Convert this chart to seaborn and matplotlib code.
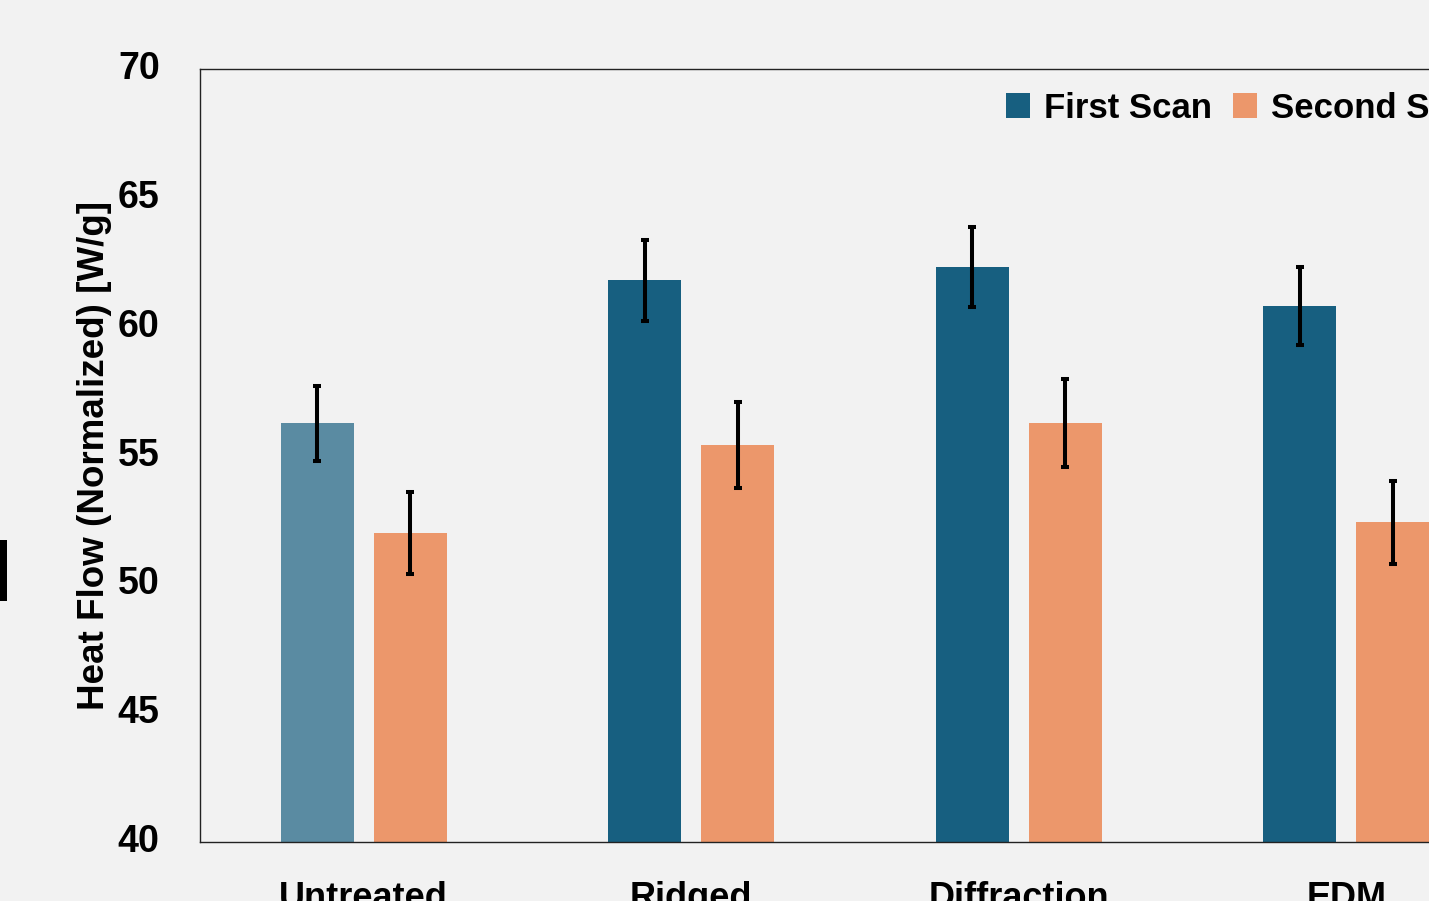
import numpy as np
import pandas as pd
import seaborn as sns
import matplotlib.pyplot as plt
from matplotlib.patches import Rectangle

# Data
categories = ["Untreated", "Ridged", "Diffraction", "EDM"]
scans = ["First Scan", "Second Scan"]
first_scan = [56.25, 61.8, 62.3, 60.8]
second_scan = [52.0, 55.4, 56.25, 52.4]
first_err = [1.45, 1.57, 1.55, 1.53]
second_err = [1.6, 1.67, 1.7, 1.6]
y_ticks = [40, 45, 50, 55, 60, 65, 70]

BLUE = "#175F80"
BLUE_LIGHT = "#5A8BA2"
ORANGE = "#EC976B"
BG = "#F2F2F2"

df = pd.DataFrame({
    "Treatment": categories * 2,
    "Scan": [scans[0]] * 4 + [scans[1]] * 4,
    "Heat": first_scan + second_scan,
})

sns.set_theme(style="white")
plt.rcParams["font.family"] = ["Liberation Sans", "DejaVu Sans"]
plt.rcParams["text.color"] = "black"
plt.rcParams["xtick.color"] = "black"
plt.rcParams["ytick.color"] = "black"
plt.rcParams["axes.labelcolor"] = "black"

fig = plt.figure(figsize=(14.29, 9.01), dpi=100, facecolor=BG)
W, H = 1429, 901
ax = fig.add_axes([200 / W, 1 - 842 / H, 1310 / W, (842 - 69) / H])
ax.set_facecolor(BG)

sns.barplot(data=df, x="Treatment", y="Heat", hue="Scan", order=categories,
            hue_order=scans, palette=[BLUE, ORANGE], saturation=1, errorbar=None,
            width=0.568, gap=0.21, linewidth=0, ax=ax, legend=False)

# first bar of the first group is shown lighter
ax.containers[0][0].set_facecolor(BLUE_LIGHT)

errs = [first_err, second_err]
for cont, err in zip(ax.containers, errs):
    xs = [b.get_x() + b.get_width() / 2 for b in cont]
    ys = [b.get_height() + b.get_y() for b in cont]
    ax.errorbar(xs, ys, yerr=err, fmt="none", ecolor="black",
                elinewidth=2.9, capsize=3, capthick=2.9, zorder=5)

ax.set_xlim(-0.5, 3.5)
ax.set_ylim(40, 70)
ax.set_yticks(y_ticks)
ax.set_yticklabels([str(t) for t in y_ticks], fontsize=27, fontweight="bold",
                   family=["Liberation Sans", "DejaVu Sans"], va="center")
ax.tick_params(axis="y", length=0, pad=29)
ax.tick_params(axis="x", length=0, pad=28)
ax.set_xticks(range(len(categories)))
ax.set_xticklabels(categories, fontsize=26, fontweight="bold",
                   family=["Liberation Sans Narrow", "Liberation Sans", "DejaVu Sans"])
ax.set_xlabel("")
ax.set_ylabel("Heat Flow (Normalized) [W/g]", fontsize=26.5, fontweight="bold",
              family=["Liberation Sans", "DejaVu Sans"], labelpad=4)

for s in ax.spines.values():
    s.set_color("#222222")
    s.set_linewidth(1.0)

# legend
handles = [Rectangle((0, 0), 1, 1, facecolor=BLUE, edgecolor="none"),
           Rectangle((0, 0), 1, 1, facecolor=ORANGE, edgecolor="none")]
fig.legend(handles, scans, loc="center left", bbox_to_anchor=(1006 / W, 1 - 108 / H),
           bbox_transform=fig.transFigure, ncol=2, frameon=False,
           prop={"family": ["Liberation Sans Narrow", "Liberation Sans", "DejaVu Sans"],
                 "weight": "bold", "size": 25},
           handlelength=0.7, handleheight=0.7, handletextpad=0.4,
           columnspacing=0.6, borderpad=0, borderaxespad=0)

# small dark marker at the left edge
fig.patches.append(Rectangle((0, 1 - 601 / H), 7 / W, 61 / H, transform=fig.transFigure,
                             facecolor="black", edgecolor="none"))

fig.savefig("out.png", dpi=100, facecolor=BG)
